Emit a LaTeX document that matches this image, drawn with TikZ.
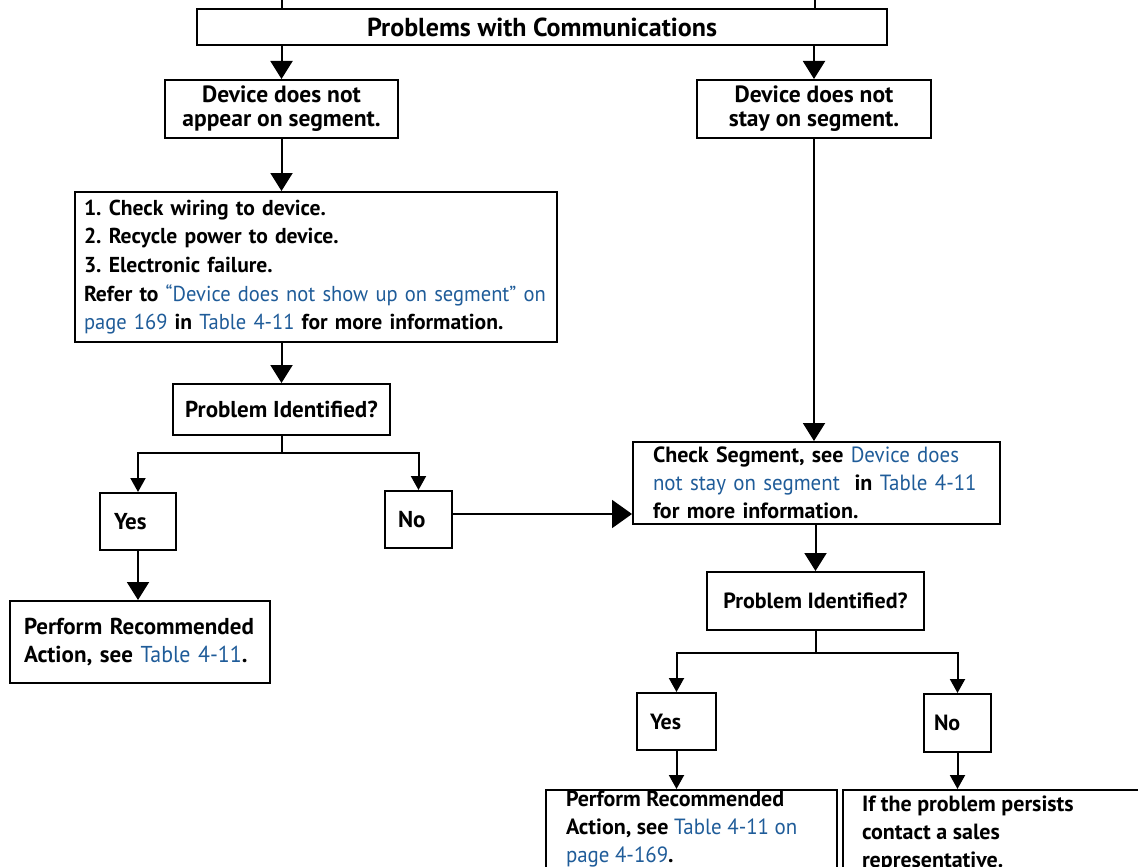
\documentclass[tikz,border=0pt]{standalone}
\usepackage{fontspec}
\setmainfont{PT Sans}
\newfontfamily\lkf[FakeStretch=0.95]{PT Sans}
\usetikzlibrary{arrows.meta}
\definecolor{linkblue}{RGB}{31,92,153}
\newcommand\lk[1]{{\lkf\mdseries\color{linkblue}#1}}
\frenchspacing
\begin{document}
\begin{tikzpicture}[x=1pt,y=-1pt,
  bx/.style={draw, line width=2pt, rectangle, inner xsep=0pt, inner ysep=0pt, font=\bfseries},
  con/.style={line width=2pt},
  big/.style={-{Triangle[width=22pt,length=18pt]}},
  sml/.style={-{Triangle[width=15pt,length=14pt]}},
  fT/.style={font=\bfseries\fontsize{26}{28}\selectfont},
  fD/.style={font=\bfseries\fontsize{23.5}{24}\selectfont},
  fA/.style={font=\bfseries\fontsize{23}{28}\selectfont},
  fB/.style={font=\bfseries\fontsize{21.6}{28.7}\selectfont},
  fC/.style={font=\bfseries\fontsize{22}{28}\selectfont}]
\clip (0,0) rectangle (1138,867);
\fill[white] (0,0) rectangle (1138,867);
\coordinate (u1) at (282,0);
\coordinate (u2) at (815,0);
% boxes
\node[bx, fT, minimum width=690pt, minimum height=36pt] (top) at (542,27) {Problems with Communications};
\node[bx, fD, minimum width=233pt, minimum height=58pt, align=center] (d1) at (281.5,109) {Device does not\\appear on segment.};
\node[bx, fD, minimum width=234pt, minimum height=58pt, align=center] (d2) at (814,109) {Device does not\\stay on segment.};
\node[bx, fB, minimum height=150pt, inner xsep=9pt, text width=464pt, align=left] (c1) at (316,267)
 {\mbox{1. Check wiring to device.}\\\mbox{2. Recycle power to device.}\\\mbox{3. Electronic failure.}\\\mbox{Refer to \lk{“Device does not show up on segment” on}}\\\mbox{\lk{page 169} in \lk{Table 4-11} for more information.}};
\node[bx, fA, minimum width=217pt, minimum height=51pt] (p1) at (281.5,409.5) {Problem Identified?};
\node[bx, fA, minimum height=57pt, inner xsep=14pt, text width=48pt, align=left] (y1) at (138,521.5) {Yes};
\node[bx, fA, minimum height=57pt, inner xsep=13pt, text width=41pt, align=left] (n1) at (418.5,519.5) {No};
\node[bx, fA, minimum height=82pt, inner xsep=14pt, text width=232pt, align=left] (pr1) at (140,642)
 {\mbox{Perform Recommended}\\\mbox{Action, see \lk{Table 4-11}.}};
\node[bx, fC, minimum height=82pt, inner xsep=20pt, text width=327pt, align=left] (c2) at (816.5,483)
 {\mbox{Check Segment, see \lk{Device does}}\\\mbox{\lk{not stay on segment}\ \ in \lk{Table 4-11}}\\\mbox{for more information.}};
\node[bx, fC, minimum width=217pt, minimum height=58pt] (p2) at (815.5,601) {Problem Identified?};
\node[bx, fC, minimum height=57pt, inner xsep=13pt, text width=53pt, align=left] (y2) at (676.5,721.5) {Yes};
\node[bx, fC, minimum height=58pt, inner xsep=10pt, text width=47pt, align=left] (n2) at (957.5,723) {No};
\node[bx, fC, inner xsep=20pt] (pr2) at (691.5,840)
 {\parbox[c][100pt][t]{251pt}{\raggedright\vspace{1pt}Perform Recommended\\Action, see \lk{Table 4-11 on}\\\lk{page 4-169}.}};
\node[bx, fC, inner xsep=19pt] (pr3) at (1001.5,840)
 {\parbox[c][100pt][t]{279pt}{\raggedright\vspace{6pt}If the problem persists\\contact a sales\\representative.}};
% connectors
\draw[con] (u1) -- (u1 |- top.north);
\draw[con] (u2) -- (u2 |- top.north);
\draw[con,big] (top.south -| d1.north) -- (d1.north);
\draw[con,big] (top.south -| d2.north) -- (d2.north);
\draw[con,big] (d1.south) -- (d1.south |- c1.north);
\draw[con,big] (p1.north |- c1.south) -- (p1.north);
\draw[con,sml] (p1.south) -- ++(0,17) -| (y1.north);
\draw[con,sml] (p1.south) -- ++(0,17) -| (n1.north);
\draw[con,big] (y1.south) -- (y1.south |- pr1.north);
\draw[con,-{Triangle[width=28pt,length=20pt]}] ([yshift=5.5pt]n1.east) -- ([yshift=5.5pt]n1.east -| c2.west);
\draw[con,big] (d2.south) -- (d2.south |- c2.north);
\draw[con,big] (p2.north |- c2.south) -- (p2.north);
\draw[con,sml] (p2.south) -- ++(0,22) -| (y2.north);
\draw[con,sml] (p2.south) -- ++(0,22) -| (n2.north);
\draw[con,sml] (y2.south) -- (y2.south |- pr2.north);
\draw[con,sml] (n2.south) -- (n2.south |- pr3.north);
\end{tikzpicture}
\end{document}
